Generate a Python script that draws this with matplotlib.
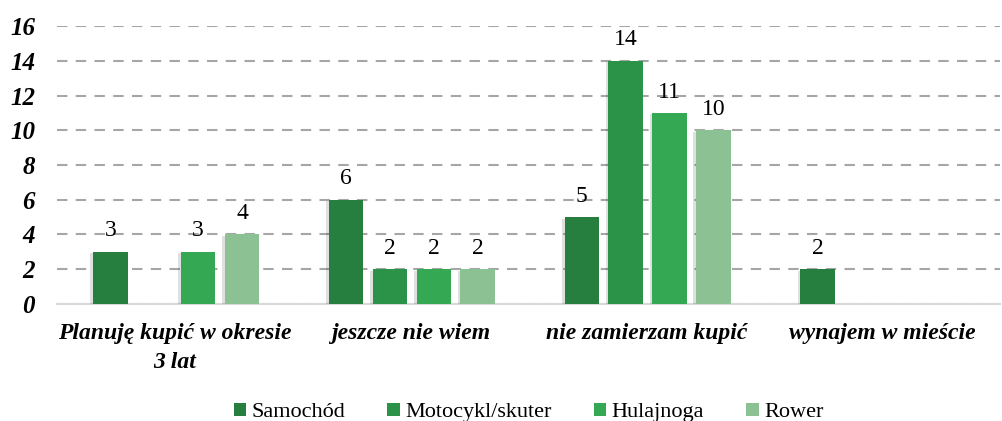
import matplotlib
matplotlib.use("Agg")
import matplotlib.pyplot as plt
import matplotlib.patheffects as pe
from matplotlib.patches import Patch
import numpy as np

categories = ["Planuję kupić w okresie\n3 lat", "jeszcze nie wiem",
              "nie zamierzam kupić", "wynajem w mieście"]
series_names = ["Samochód", "Motocykl/skuter", "Hulajnoga", "Rower"]
samochod = [3, 6, 5, 2]
motocykl = [0, 2, 14, 0]
hulajnoga = [3, 2, 11, 0]
rower = [4, 2, 10, 0]
colors = ["#267f3e", "#2b9347", "#35a853", "#8cc193"]

plt.rcParams["font.family"] = ["Liberation Serif", "DejaVu Serif"]

fig = plt.figure(figsize=(10.03, 4.21), dpi=100)
ax = fig.add_axes([0.057, 0.278, 0.940, 0.660])

x = np.arange(len(categories))
width = 0.146
step = 0.186
shadow = [pe.SimplePatchShadow(offset=(-2, -1), shadow_rgbFace="#000000", alpha=0.12), pe.Normal()]

for i, vals in enumerate([samochod, motocykl, hulajnoga, rower]):
    pos = x + (i - 1.5) * step + 0.005
    bars = ax.bar(pos, vals, width, color=colors[i], zorder=3)
    for b, v in zip(bars, vals):
        if v == 0:
            b.set_visible(False)
            continue
        b.set_path_effects(shadow)
        ax.text(b.get_x() + b.get_width() / 2, v + 0.6, str(v), ha="center", va="bottom",
                fontsize=17, color="#000000")

ax.set_ylim(0, 16)
ax.set_xlim(-0.5, 3.5)
ax.set_yticks(range(0, 17, 2))
ax.set_yticklabels([str(t) for t in range(0, 17, 2)], fontsize=18, fontweight="bold", fontstyle="italic")
ax.set_xticks(x)
ax.set_xticklabels(categories, fontsize=17, fontweight="bold", fontstyle="italic", linespacing=1.45)
ax.tick_params(axis="x", length=0, pad=14)
ax.tick_params(axis="y", length=0, pad=16)
ax.yaxis.grid(True, linestyle=(0, (5, 4)), color="#a6a6a6", linewidth=1.5, zorder=0)
for s in ["top", "right", "left"]:
    ax.spines[s].set_visible(False)
ax.spines["bottom"].set_color("#d9d9d9")
ax.spines["bottom"].set_linewidth(1.5)

handles = [Patch(facecolor=c, label=n) for c, n in zip(colors, series_names)]
ax.legend(handles=handles, loc="center", bbox_to_anchor=(0.5, -0.39), ncol=4, frameon=False,
          fontsize=16, handlelength=0.55, handleheight=0.55, handletextpad=0.25, columnspacing=1.9)

fig.savefig("out.png", dpi=100)
